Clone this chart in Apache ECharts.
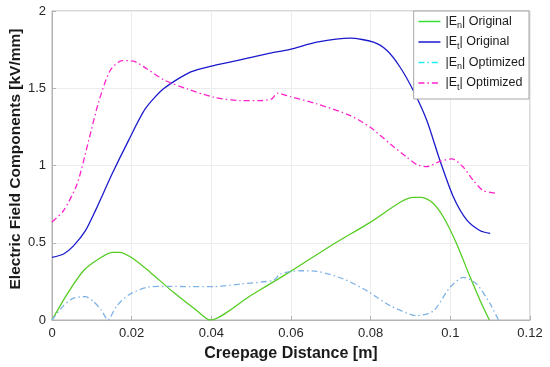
<!DOCTYPE html>
<html><head><meta charset="utf-8">
<script src="https://cdn.jsdelivr.net/npm/echarts@6/dist/echarts.min.js"></script>
<style>html,body{margin:0;padding:0;background:#fff}#c{width:550px;height:367px}</style>
</head><body><div id="c"></div>
<script>
const xTicks = [0, 0.02, 0.04, 0.06, 0.08, 0.1, 0.12];
const yTicks = [0, 0.5, 1, 1.5, 2];
const seriesNames = ['|E{s|n}| Original', '|E{s|t}| Original', '|E{s|n}| Optimized', '|E{s|t}| Optimized'];

const enOrigX = [0, 0.0038, 0.0079, 0.0117, 0.0151, 0.0171, 0.0205, 0.0247, 0.0305, 0.0364, 0.0397, 0.0498, 0.0598, 0.0707, 0.0799, 0.0874, 0.0907, 0.0928, 0.0954, 0.0983, 0.1016, 0.105, 0.1075, 0.1098];
const enOrigY = [0, 0.168, 0.319, 0.395, 0.438, 0.438, 0.395, 0.308, 0.179, 0.06, 0, 0.157, 0.313, 0.492, 0.632, 0.762, 0.794, 0.794, 0.762, 0.665, 0.492, 0.276, 0.125, 0];

const etOrigX = [0, 0.0029, 0.0054, 0.0084, 0.0109, 0.0151, 0.0192, 0.0234, 0.028, 0.0347, 0.0406, 0.0473, 0.054, 0.0598, 0.0665, 0.0749, 0.0807, 0.0841, 0.0874, 0.0907, 0.0941, 0.0974, 0.1008, 0.1041, 0.1075, 0.11];
const etOrigY = [0.405, 0.427, 0.48, 0.578, 0.708, 0.946, 1.161, 1.366, 1.496, 1.604, 1.647, 1.684, 1.723, 1.752, 1.798, 1.824, 1.798, 1.744, 1.636, 1.485, 1.291, 1.032, 0.794, 0.648, 0.578, 0.561];

const enOptX = [0, 0.0029, 0.0054, 0.0084, 0.0104, 0.0125, 0.014, 0.0163, 0.0196, 0.0238, 0.0289, 0.0347, 0.0406, 0.0473, 0.0556, 0.0573, 0.0623, 0.0665, 0.0732, 0.079, 0.0849, 0.0916, 0.0958, 0.0999, 0.1033, 0.1066, 0.11, 0.1121];
const enOptY = [0, 0.093, 0.142, 0.151, 0.12, 0.06, 0, 0.093, 0.168, 0.211, 0.218, 0.216, 0.216, 0.233, 0.257, 0.298, 0.319, 0.315, 0.265, 0.19, 0.093, 0.028, 0.06, 0.211, 0.276, 0.233, 0.104, 0];

const etOptX = [0, 0.0029, 0.0063, 0.0092, 0.0117, 0.0146, 0.0176, 0.0205, 0.0238, 0.0284, 0.0339, 0.0406, 0.0473, 0.0523, 0.0552, 0.0565, 0.0598, 0.0665, 0.0749, 0.0799, 0.0849, 0.0891, 0.0916, 0.0941, 0.0974, 0.1004, 0.1033, 0.1058, 0.1083, 0.1117];
const etOptY = [0.635, 0.708, 0.88, 1.161, 1.41, 1.615, 1.679, 1.675, 1.626, 1.55, 1.496, 1.442, 1.42, 1.42, 1.431, 1.468, 1.446, 1.399, 1.323, 1.247, 1.14, 1.053, 1.006, 0.993, 1.027, 1.043, 0.988, 0.902, 0.837, 0.82];

const pair = (xs, ys) => xs.map((x, i) => [x, ys[i]]);
const FONT = 'Liberation Sans';
const dashDot = [6, 3, 1.5, 3];
const clear = {color: 'rgba(0,0,0,0)', borderColor: 'rgba(0,0,0,0)', borderWidth: 0};

const chart = echarts.init(document.getElementById('c'), null, {renderer: 'canvas'});
const mk = (name, xs, ys, color, type) => ({
  name, type: 'line', data: pair(xs, ys), symbol: 'none', smooth: 0.25,
  lineStyle: {color, width: 1.3, type}, itemStyle: {color}, z: 3
});
chart.setOption({
  animation: false,
  grid: {left: 52, right: 20, top: 11, bottom: 47, show: true, borderColor: '#b3b3b3', borderWidth: 1,
    containLabel: false, outerBoundsMode: 'none'},
  legend: {
    orient: 'vertical', right: 21, top: 11, itemWidth: 22, itemHeight: 14, itemGap: 5,
    padding: [4, 4, 7, 4], backgroundColor: '#fff', borderColor: '#a6a6a6', borderWidth: 1, borderRadius: 0,
    textStyle: {fontFamily: FONT, fontSize: 12.5, color: '#1a1a1a', padding: [0, 0, 0, 0],
      rich: {s: {fontSize: 9, fontFamily: FONT, color: '#1a1a1a', padding: [9, 0, 0, 0]}}},
    data: [
      {name: seriesNames[0], itemStyle: clear, lineStyle: {color: '#33e033', width: 1.5}},
      {name: seriesNames[1], itemStyle: clear, lineStyle: {color: '#1a1acc', width: 1.5}},
      {name: seriesNames[2], itemStyle: clear, lineStyle: {color: '#22eeee', width: 1.5}},
      {name: seriesNames[3], itemStyle: clear, lineStyle: {color: '#ff22cc', width: 1.5}}
    ]
  },
  xAxis: {
    type: 'value', min: 0, max: 0.12, interval: 0.02,
    name: 'Creepage Distance [m]', nameLocation: 'middle', nameGap: 26, nameMoveOverlap: false,
    nameTextStyle: {fontFamily: FONT, fontSize: 16, fontWeight: 'bold', color: '#1a1a1a'},
    axisLine: {lineStyle: {color: '#b3b3b3'}},
    axisTick: {inside: true, length: 4, lineStyle: {color: '#b3b3b3'}},
    axisLabel: {fontFamily: FONT, fontSize: 13, color: '#262626', margin: 7,
      formatter: v => xTicks.includes(+v.toFixed(2)) ? String(+v.toFixed(2)) : ''},
    splitLine: {show: true, lineStyle: {color: '#ececec', width: 1}}
  },
  yAxis: {
    type: 'value', min: 0, max: 2, interval: 0.5,
    name: 'Electric Field Components [kV/mm]', nameLocation: 'middle', nameGap: 28, nameMoveOverlap: false,
    nameTextStyle: {fontFamily: FONT, fontSize: 15.5, fontWeight: 'bold', color: '#1a1a1a', padding: [0, 0, 0, 13]},
    axisLine: {show: true, lineStyle: {color: '#b3b3b3'}},
    axisTick: {show: true, inside: true, length: 4, lineStyle: {color: '#b3b3b3'}},
    axisLabel: {fontFamily: FONT, fontSize: 13, color: '#262626', margin: 6,
      formatter: v => yTicks.includes(v) ? String(v) : ''},
    splitLine: {show: true, lineStyle: {color: '#ececec', width: 1}}
  },
  series: [
    mk(seriesNames[0], enOrigX, enOrigY, '#55cc22', 'solid'),
    mk(seriesNames[1], etOrigX, etOrigY, '#1a1acc', 'solid'),
    mk(seriesNames[2], enOptX, enOptY, '#7fb3e6', dashDot),
    mk(seriesNames[3], etOptX, etOptY, '#ff22cc', dashDot)
  ]
});
</script></body></html>
